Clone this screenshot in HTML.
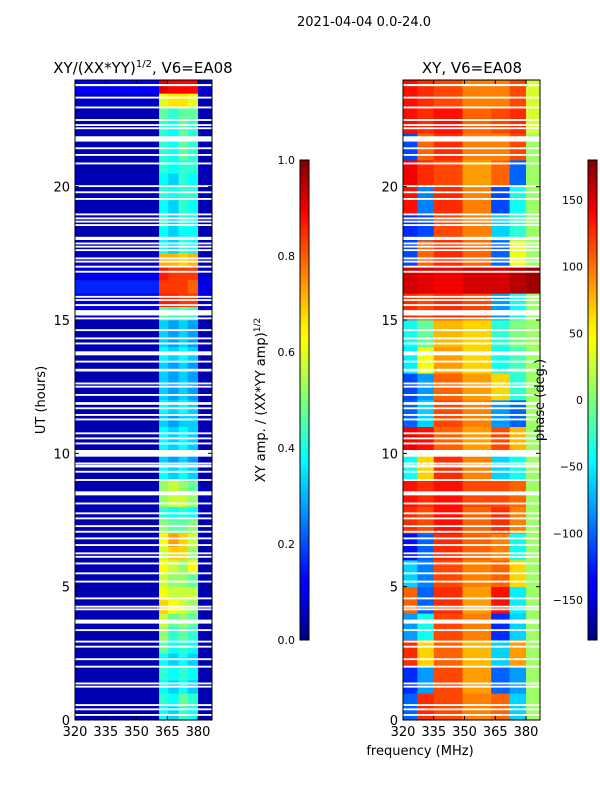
<!DOCTYPE html>
<html><head><meta charset="utf-8"><style>
html,body{margin:0;padding:0;background:#fff;}
svg text{font-family:"DejaVu Sans","Liberation Sans",sans-serif;fill:#000;}
</style></head><body>
<svg id="chart" width="600" height="800" viewBox="0 0 600 800" xmlns="http://www.w3.org/2000/svg">
<defs>
<linearGradient id="jet" x1="0" y1="1" x2="0" y2="0">
<stop offset="0" stop-color="#00007f"/><stop offset="0.11" stop-color="#0000ff"/><stop offset="0.125" stop-color="#0000ff"/>
<stop offset="0.34" stop-color="#00dcff"/><stop offset="0.375" stop-color="#00ffff"/><stop offset="0.5" stop-color="#7dff7a"/>
<stop offset="0.625" stop-color="#ffff00"/><stop offset="0.66" stop-color="#ffea00"/><stop offset="0.89" stop-color="#ff0000"/><stop offset="1" stop-color="#7f0000"/>
</linearGradient>
</defs>
<text x="364" y="26" font-size="13" text-anchor="middle">2021-04-04 0.0-24.0</text>
<text x="143" y="73" font-size="15" text-anchor="middle">XY/(XX*YY)<tspan font-size="10" dy="-6">1/2</tspan><tspan dy="6">, V6=EA08</tspan></text>
<text x="472" y="73" font-size="15" text-anchor="middle">XY, V6=EA08</text>
<g id="leftPanel"></g>
<g id="rightPanel"></g>
<g id="axes"></g>
<text transform="translate(45,400) rotate(-90)" font-size="13" text-anchor="middle">UT (hours)</text>
<text x="420" y="755" font-size="13" text-anchor="middle">frequency (MHz)</text>
<text transform="translate(265,400) rotate(-90)" font-size="13" text-anchor="middle">XY amp. / (XX*YY amp)<tspan font-size="9" dy="-5">1/2</tspan></text>
<text transform="translate(544,400) rotate(-90)" font-size="13" text-anchor="middle">phase (deg.)</text>
<rect x="300" y="160" width="9" height="480" fill="url(#jet)" stroke="#000" stroke-width="1"/>
<rect x="588" y="160" width="9" height="480" fill="url(#jet)" stroke="#000" stroke-width="1"/>
</svg>
<script>
// ---- data ----
const freqTicks = [320, 335, 350, 365, 380];
const timeTicks = [0, 5, 10, 15, 20];
const ampTicks = [0.0, 0.2, 0.4, 0.6, 0.8, 1.0];
const phaseTicks = [-150, -100, -50, 0, 50, 100, 150];
const leftFreqEdges = [320, 361, 365.5, 370.5, 375, 380, 386.8];
const rightFreqEdges = [320, 327, 335, 349, 363, 372, 380, 386.8];
// left amplitude per half-hour row (row 0 = 0.0-0.5 h): low band (320-361) then 5 high sub-bands
const leftLow = [0.05,0.05,0.05,0.05,0.05,0.05,0.05,0.05,0.05,0.05,0.05,0.05,0.05,0.05,0.05,0.05,0.05,0.05,0.05,0.05,0.05,0.05,0.05,0.05,
0.05,0.05,0.05,0.05,0.05,0.05,0.07,0.1,0.16,0.1,0.07,0.05,0.05,0.05,0.05,0.05,0.05,0.05,0.05,0.05,0.05,0.05,0.07,0.12];
const leftHigh = [
[0.38,0.33,0.42,0.38,0.05],[0.42,0.38,0.47,0.42,0.05],[0.38,0.33,0.38,0.33,0.05],[0.42,0.38,0.42,0.38,0.05],
[0.38,0.33,0.38,0.33,0.05],[0.47,0.38,0.42,0.38,0.05],[0.52,0.42,0.47,0.42,0.05],[0.57,0.47,0.52,0.47,0.05],
[0.67,0.62,0.57,0.52,0.05],[0.62,0.57,0.57,0.57,0.05],[0.57,0.52,0.52,0.47,0.05],[0.62,0.57,0.52,0.62,0.05],
[0.57,0.67,0.67,0.52,0.05],[0.62,0.72,0.67,0.57,0.05],[0.52,0.47,0.47,0.52,0.05],[0.42,0.38,0.42,0.38,0.05],
[0.52,0.57,0.57,0.52,0.05],[0.52,0.57,0.52,0.47,0.05],[0.38,0.33,0.38,0.33,0.05],[0.33,0.28,0.33,0.28,0.05],
[0.38,0.33,0.38,0.33,0.05],[0.38,0.33,0.38,0.33,0.05],[0.33,0.28,0.33,0.33,0.05],[0.38,0.33,0.38,0.33,0.05],
[0.33,0.28,0.33,0.28,0.05],[0.33,0.28,0.33,0.28,0.05],[0.33,0.28,0.33,0.28,0.05],[0.38,0.33,0.38,0.33,0.05],
[0.33,0.28,0.33,0.28,0.05],[0.33,0.28,0.33,0.28,0.05],[0.47,0.42,0.47,0.42,0.05],[0.85,0.85,0.82,0.82,0.08],
[0.82,0.82,0.82,0.78,0.1],[0.85,0.82,0.82,0.82,0.08],[0.7,0.7,0.67,0.7,0.05],[0.38,0.33,0.42,0.38,0.05],
[0.38,0.33,0.38,0.38,0.05],[0.42,0.33,0.42,0.38,0.05],[0.38,0.33,0.42,0.38,0.05],[0.42,0.38,0.42,0.42,0.05],
[0.38,0.33,0.42,0.38,0.05],[0.42,0.38,0.42,0.42,0.05],[0.42,0.38,0.47,0.42,0.05],[0.42,0.38,0.47,0.42,0.05],
[0.42,0.38,0.47,0.42,0.05],[0.47,0.42,0.47,0.47,0.05],[0.6,0.65,0.65,0.6,0.05],[0.9,0.87,0.87,0.87,0.08]];
// right phase (deg) per hour row
const rightPhase = [
[-100,120,110,90,100,-60,10],[-120,-80,110,80,-100,-80,10],[120,60,100,70,-60,80,10],[-80,-40,110,90,-120,-60,10],
[100,-100,120,80,130,-50,10],[-60,-90,110,90,100,60,10],[-130,-100,120,100,90,-40,10],[120,110,130,100,120,90,10],
[130,120,130,110,110,100,10],[-40,60,120,90,-60,-40,10],[140,130,100,80,110,70,10],[-100,-60,110,90,-80,-100,10],
[-110,-80,100,80,60,-30,10],[-50,40,80,60,-40,-20,10],[-40,-10,70,60,-30,0,10],[120,110,120,110,-80,-40,10],
[150,145,140,150,150,160,170],[-110,100,120,100,-100,40,10],[-120,-110,110,90,-60,-30,10],[130,-90,120,90,-110,-40,10],
[140,120,110,80,100,-100,10],[-110,100,120,90,90,110,10],[130,120,130,100,110,120,30],[130,120,110,90,90,110,30]];
// flagged (white) time samples in hours, and widths in hours
const flagHours = [23.81,23.34,22.97,22.5,22.31,22.19,21.79,21.44,21.19,20.87,20.02,19.79,19.54,18.96,18.81,18.69,18.56,18.06,17.87,17.75,17.62,17.31,17.19,17.0,16.81,15.87,15.75,15.56,15.27,15.06,14.62,14.31,14.12,13.75,13.44,13.12,12.62,12.5,12.19,
11.87,11.69,11.44,11.27,10.75,10.56,10.37,10.0,9.62,9.52,9.31,9.0,8.5,8.12,7.75,7.56,7.27,7.06,6.81,6.56,6.25,6.12,5.87,5.5,5.19,4.56,4.25,4.15,3.69,3.37,2.94,2.75,2.28,2.0,1.37,1.25,0.56,0.4,0.19];
const flagWidths = [0.08,0.07,0.07,0.07,0.07,0.07,0.2,0.07,0.07,0.07,0.07,0.07,0.07,0.07,0.07,0.07,0.07,0.12,0.07,0.07,0.07,0.07,0.07,0.07,0.07,0.07,0.07,0.07,0.2,0.07,0.07,0.07,0.07,0.15,0.07,0.1,0.07,0.07,0.07,
0.1,0.07,0.07,0.07,0.07,0.07,0.07,0.25,0.07,0.1,0.07,0.07,0.15,0.07,0.07,0.07,0.07,0.07,0.07,0.07,0.07,0.07,0.07,0.07,0.07,0.07,0.07,0.07,0.15,0.07,0.07,0.07,0.07,0.07,0.07,0.07,0.07,0.07,0.07];

// ---- scales ----
const NS='http://www.w3.org/2000/svg';
const PT=80, PB=720, FMIN=320, FMAX=386.8, TMAX=24;
const yT = h => PB - (h/TMAX)*(PB-PT);
const xL = f => 75 + (f-FMIN)/(FMAX-FMIN)*137;
const xR = f => 403 + (f-FMIN)/(FMAX-FMIN)*137;
const yAmp = v => 640 - v*480;
const yPh = v => 640 - (v+180)/360*480;
function jet(v){v=Math.max(0,Math.min(1,v));
 const c=t=>Math.round(255*Math.max(0,Math.min(1,1.5-Math.abs(4*v-t))));
 return `rgb(${c(3)},${c(2)},${c(1)})`;}
function mk(tag,attrs,parent){const e=document.createElementNS(NS,tag);for(const k in attrs)e.setAttribute(k,attrs[k]);parent.appendChild(e);return e;}

const lp=document.getElementById('leftPanel'), rp=document.getElementById('rightPanel'), ax=document.getElementById('axes');
// left cells
leftHigh.forEach((row,i)=>{
  const vals=[leftLow[i]].concat(row);
  vals.forEach((v,j)=>{
    const r=mk('rect',{x:xL(leftFreqEdges[j]),y:yT((i+1)*0.5),width:xL(leftFreqEdges[j+1])-xL(leftFreqEdges[j])+0.3,height:yT(i*0.5)-yT((i+1)*0.5)+0.3,fill:jet(v)},lp);
    
    
  });
});
// right cells
rightPhase.forEach((row,i)=>{
  row.forEach((v,j)=>{
    const r=mk('rect',{x:xR(rightFreqEdges[j]),y:yT(i+1),width:xR(rightFreqEdges[j+1])-xR(rightFreqEdges[j])+0.3,height:yT(i)-yT(i+1)+0.3,fill:jet((v+180)/360)},rp);
    
    
  });
});
// flags
flagHours.forEach((h,k)=>{
  const w=flagWidths[k];
  [[lp,75],[rp,403]].forEach(([g,x0])=>{
    const r=mk('rect',{x:x0,y:yT(h+w/2),width:137,height:Math.max(1.5,yT(h-w/2)-yT(h+w/2)),fill:'#fff'},g);
    
    
  });
});
// frames and ticks
[75,403].forEach(x0=>{
  const f=mk('rect',{x:x0,y:PT,width:137,height:PB-PT,fill:'none',stroke:'#000','stroke-width':1},ax);
  
  
  const xs = x0===75?xL:xR;
  freqTicks.forEach(t=>{
    mk('line',{x1:xs(t),x2:xs(t),y1:PB,y2:PB-4,stroke:'#000'},ax);
    mk('line',{x1:xs(t),x2:xs(t),y1:PT,y2:PT+4,stroke:'#000'},ax);
    const tx=mk('text',{x:xs(t),y:PB+16,'font-size':13,'text-anchor':'middle'},ax);
    tx.textContent=t;
    
    
  });
  timeTicks.forEach(t=>{
    mk('line',{x1:x0,x2:x0+4,y1:yT(t),y2:yT(t),stroke:'#000'},ax);
    mk('line',{x1:x0+137,x2:x0+133,y1:yT(t),y2:yT(t),stroke:'#000'},ax);
    const tx=mk('text',{x:x0-5,y:yT(t)+5,'font-size':13,'text-anchor':'end'},ax);
    tx.textContent=t;
    
    
  });
});
ampTicks.forEach(t=>{
  mk('line',{x1:300,x2:304,y1:yAmp(t),y2:yAmp(t),stroke:'#000'},ax);
  const tx=mk('text',{x:295,y:yAmp(t)+4,'font-size':11,'text-anchor':'end'},ax);
  tx.textContent=t.toFixed(1);
  
  
});
phaseTicks.forEach(t=>{
  mk('line',{x1:588,x2:592,y1:yPh(t),y2:yPh(t),stroke:'#000'},ax);
  const tx=mk('text',{x:583,y:yPh(t)+4,'font-size':11,'text-anchor':'end'},ax);
  tx.textContent=t===0?'0':(t<0?'\u2212'+(-t):String(t));
  
  
});
</script>
</body></html>
